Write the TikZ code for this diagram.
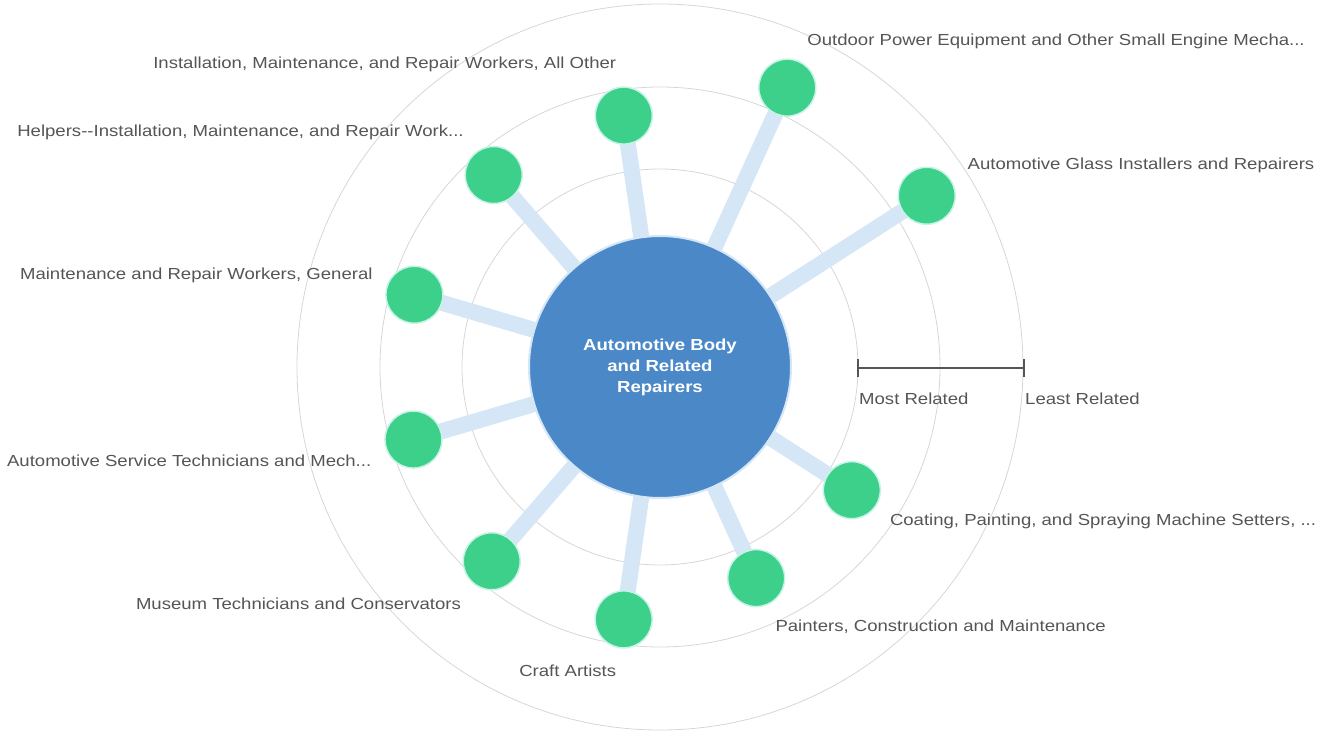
\documentclass[tikz,border=0pt]{standalone}
\usepackage{fontspec}
\setmainfont[FakeStretch=1.16]{Liberation Sans}
\usepackage{xcolor}
\usetikzlibrary{backgrounds}

\definecolor{hubblue}{HTML}{4A88C7}
\definecolor{spokeblue}{HTML}{D5E6F6}
\definecolor{jobgreen}{HTML}{3DD08A}
\definecolor{halo}{HTML}{C6F3E6}
\definecolor{ringgray}{HTML}{D6D6D6}
\definecolor{txtgray}{HTML}{555555}

\begin{document}
\begin{tikzpicture}[x=1pt, y=1pt,
    hub/.style={circle, fill=hubblue, draw=spokeblue, line width=2pt, minimum size=262pt,
                inner sep=0pt, text=white, align=center, font=\bfseries\fontsize{16}{21}\selectfont},
    job/.style={circle, fill=jobgreen, draw=halo, line width=1.5pt, minimum size=57pt, inner sep=0pt},
    spoke/.style={line width=16pt, spokeblue},
    ring/.style={line width=0.8pt, ringgray},
    lbl/.style={text=txtgray, inner sep=0pt, font=\fontsize{16}{18}\selectfont},
    scalebar/.style={line width=2.5pt, txtgray}]
  \useasboundingbox (-660,-369) rectangle (657,367);

  \node[hub] (hub) at (0,0) {Automotive Body\\and Related\\Repairers};

  \node[job] (allother) at (98.2:254) {};
  \node[job] (outdoor) at (65.5:307) {};
  \node[job] (glass) at (32.7:317) {};
  \node[job] (helpers) at (130.9:254) {};
  \node[job] (general) at (163.6:256) {};
  \node[job] (service) at (196.4:257) {};
  \node[job] (museum) at (229.1:257) {};
  \node[job] (craft) at (261.8:255) {};
  \node[job] (painters) at (294.5:232) {};
  \node[job] (coating) at (327.3:228) {};

  \begin{scope}[on background layer]
    \draw[ring] (hub.center) circle (198pt);
    \draw[ring] (hub.center) circle (280pt);
    \draw[ring] (hub.center) circle (363pt);
    \draw[spoke] (hub.center) -- (allother.center);
    \draw[spoke] (hub.center) -- (outdoor.center);
    \draw[spoke] (hub.center) -- (glass.center);
    \draw[spoke] (hub.center) -- (helpers.center);
    \draw[spoke] (hub.center) -- (general.center);
    \draw[spoke] (hub.center) -- (service.center);
    \draw[spoke] (hub.center) -- (museum.center);
    \draw[spoke] (hub.center) -- (craft.center);
    \draw[spoke] (hub.center) -- (painters.center);
    \draw[spoke] (hub.center) -- (coating.center);
  \end{scope}

  % labels
  \node[lbl, anchor=east] (allother-t) at ([shift={(98.2:52)}]allother.center) {Installation, Maintenance, and Repair Workers, All Other};
  \node[lbl, anchor=west] (outdoor-t) at ([shift={(66.5:50)}]outdoor.center) {Outdoor Power Equipment and Other Small Engine Mecha...};
  \node[lbl, anchor=west] (glass-t) at ([shift={(37:51)}]glass.center) {Automotive Glass Installers and Repairers};
  \node[lbl, anchor=east] (helpers-t) at ([shift={(125:52)}]helpers.center) {Helpers-{}-Installation, Maintenance, and Repair Work...};
  \node[lbl, anchor=east] (general-t) at ([shift={(155:46)}]general.center) {Maintenance and Repair Workers, General};
  \node[lbl, anchor=east] (service-t) at ([shift={(206.6:47)}]service.center) {Automotive Service Technicians and Mech...};
  \node[lbl, anchor=east] (museum-t) at ([shift={(234:52)}]museum.center) {Museum Technicians and Conservators};
  \node[lbl, anchor=east] (craft-t) at ([shift={(262:52)}]craft.center) {Craft Artists};
  \node[lbl, anchor=west] (painters-t) at ([shift={(291.6:52)}]painters.center) {Painters, Construction and Maintenance};
  \node[lbl, anchor=west] (coating-t) at ([shift={(320.8:49)}]coating.center) {Coating, Painting, and Spraying Machine Setters, ...};

  % scale
  \coordinate (most) at (198,-1);
  \coordinate (least) at (364,-1);
  \draw[scalebar] (most) -- (least);
  \draw[scalebar] ([yshift=-9pt]most) -- ([yshift=9pt]most);
  \draw[scalebar] ([yshift=-9pt]least) -- ([yshift=9pt]least);
  \node[lbl, anchor=west] (most-t) at ([shift={(1,-31)}]most) {Most Related};
  \node[lbl, anchor=west] (least-t) at ([shift={(1,-31)}]least) {Least Related};
\end{tikzpicture}
\end{document}
